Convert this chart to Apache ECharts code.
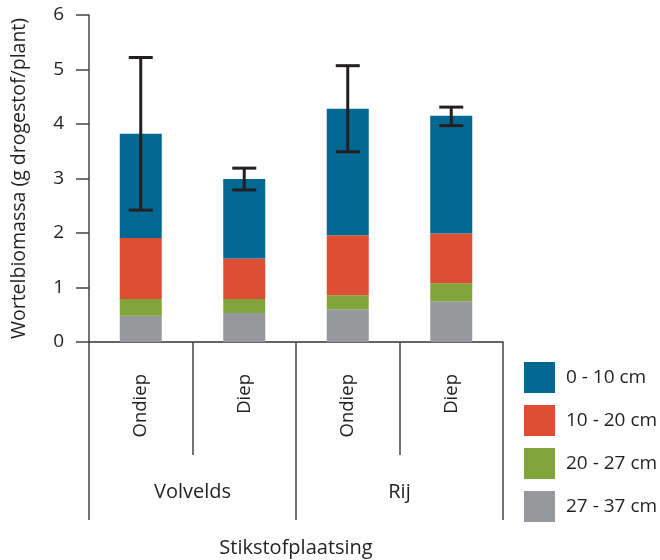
<!DOCTYPE html>
<html>
<head>
<meta charset="utf-8">
<script src="https://cdn.jsdelivr.net/npm/echarts@6/dist/echarts.min.js"></script>
<style>
html,body{margin:0;padding:0;background:#fff;}
#chart{width:660px;height:560px;}
</style>
</head>
<body>
<div id="chart"></div>
<script>
const categories = ['Ondiep', 'Diep', 'Ondiep', 'Diep'];
const groups = ['Volvelds', 'Rij'];
const seriesNames = ['0 - 10 cm', '10 - 20 cm', '20 - 27 cm', '27 - 37 cm'];
const depth0_10 = [1.91, 1.46, 2.32, 2.16];
const depth10_20 = [1.12, 0.74, 1.10, 0.91];
const depth20_27 = [0.31, 0.26, 0.26, 0.33];
const depth27_37 = [0.48, 0.53, 0.60, 0.75];
const errLow = [2.42, 2.79, 3.49, 3.97];
const errHigh = [5.22, 3.19, 5.07, 4.31];
const yMin = 0, yMax = 6, yStep = 1;

const colors = {
  '0 - 10 cm': '#006891',
  '10 - 20 cm': '#dd4e33',
  '20 - 27 cm': '#82a53a',
  '27 - 37 cm': '#97989c'
};
const FONT = 'Open Sans';
const textColor = '#231f20';
const axisColor = '#444';

const chart = echarts.init(document.getElementById('chart'), null, {renderer: 'canvas'});

function barSeries(name, data) {
  return {
    name: name,
    type: 'bar',
    stack: 'total',
    barWidth: 42,
    data: data,
    itemStyle: {color: colors[name]},
    emphasis: {disabled: true},
    xAxisIndex: 0, yAxisIndex: 0
  };
}

const errData = categories.map((c, i) => [i, errLow[i], errHigh[i]]);

const option = {
  animation: false,
  textStyle: {fontFamily: FONT},
  grid: {left: 89, right: 157, top: 15, bottom: 218, containLabel: false},
  legend: {
    orient: 'vertical',
    left: 524,
    top: 362,
    padding: 0,
    itemWidth: 31,
    itemHeight: 31,
    itemGap: 12,
    icon: 'rect',
    selectedMode: false,
    data: seriesNames,
    textStyle: {fontFamily: FONT, fontSize: 19, color: textColor, padding: [0, 0, 0, 6]}
  },
  xAxis: [
    {
      type: 'category',
      data: categories,
      position: 'bottom',
      axisLine: {show: true, lineStyle: {color: '#333', width: 1.5}},
      axisTick: {show: true, alignWithLabel: false, length: 113, lineStyle: {color: axisColor, width: 1.5}},
      axisLabel: {rotate: 90, margin: 32, fontSize: 18.5, color: textColor, fontFamily: FONT}
    },
    {
      type: 'category',
      data: groups,
      position: 'bottom',
      axisLine: {show: false},
      axisTick: {show: true, length: 178, lineStyle: {color: axisColor, width: 1.5}},
      axisLabel: {margin: 140, fontSize: 20, color: textColor, fontFamily: FONT}
    }
  ],
  yAxis: {
    type: 'value',
    min: yMin,
    max: yMax,
    interval: yStep,
    name: 'Wortelbiomassa (g drogestof/plant)',
    nameLocation: 'middle',
    nameGap: 60,
    nameRotate: 90,
    nameTextStyle: {fontSize: 19.5, color: textColor, fontFamily: FONT},
    axisLine: {show: true, lineStyle: {color: axisColor, width: 1.5}},
    axisTick: {show: true, length: 13, lineStyle: {color: axisColor, width: 1.5}},
    axisLabel: {margin: 25, fontSize: 19, color: textColor, fontFamily: FONT},
    splitLine: {show: false}
  },
  graphic: [
    {
      type: 'text',
      x: 296,
      y: 538,
      style: {text: 'Stikstofplaatsing', fontSize: 20, fontFamily: FONT, fill: textColor, textAlign: 'center', textVerticalAlign: 'top'}
    }
  ],
  series: [
    barSeries('27 - 37 cm', depth27_37),
    barSeries('20 - 27 cm', depth20_27),
    barSeries('10 - 20 cm', depth10_20),
    barSeries('0 - 10 cm', depth0_10),
    {
      name: 'error',
      type: 'custom',
      xAxisIndex: 0,
      yAxisIndex: 0,
      data: errData,
      encode: {x: 0, y: [1, 2]},
      z: 10,
      renderItem: function (params, api) {
        const idx = api.value(0);
        const lo = api.coord([idx, api.value(1)]);
        const hi = api.coord([idx, api.value(2)]);
        const hw = 12;
        const st = {stroke: '#231f20', lineWidth: 3};
        return {
          type: 'group',
          children: [
            {type: 'line', shape: {x1: lo[0], y1: lo[1], x2: hi[0], y2: hi[1]}, style: st},
            {type: 'line', shape: {x1: lo[0] - hw, y1: lo[1], x2: lo[0] + hw, y2: lo[1]}, style: st},
            {type: 'line', shape: {x1: hi[0] - hw, y1: hi[1], x2: hi[0] + hw, y2: hi[1]}, style: st}
          ]
        };
      }
    }
  ]
};
chart.setOption(option);
</script>
</body>
</html>
